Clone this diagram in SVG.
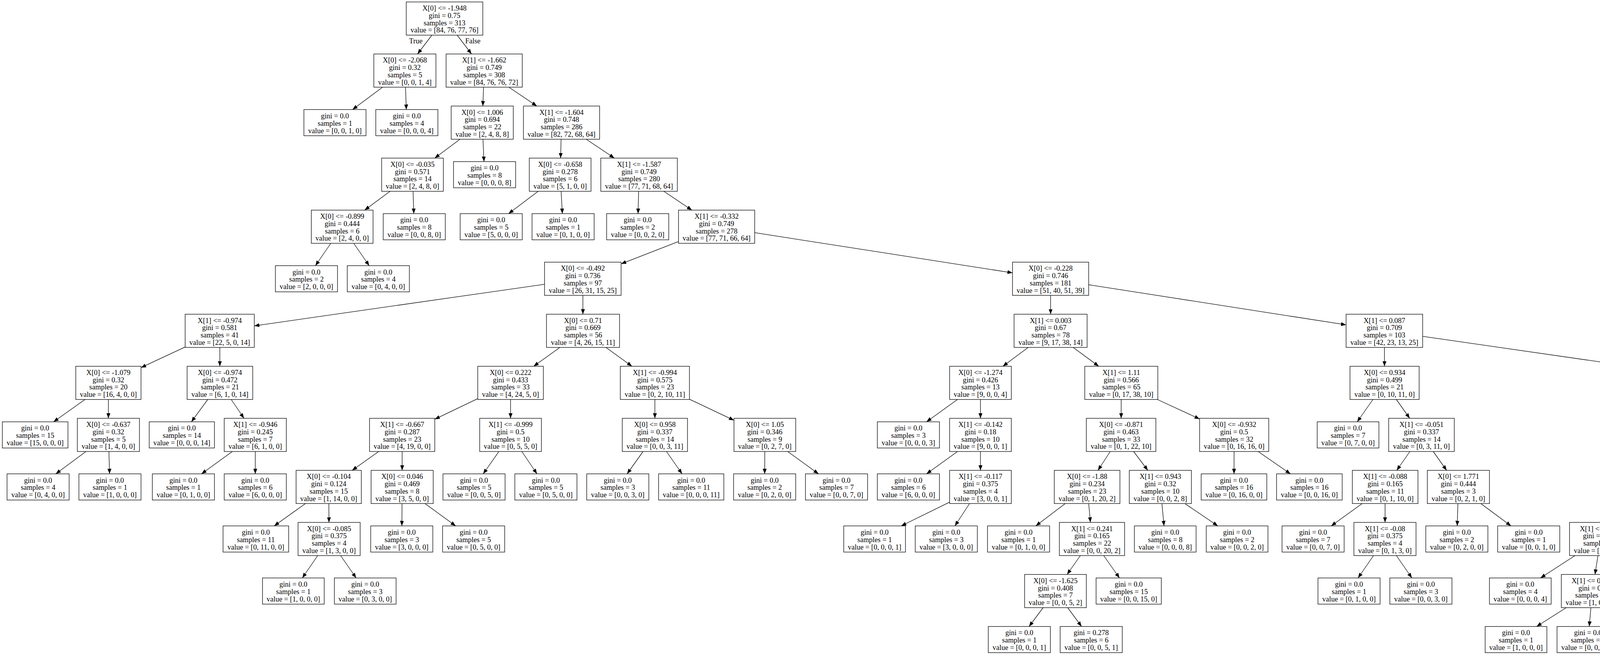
<svg xmlns="http://www.w3.org/2000/svg" width="5459" height="1677" viewBox="0 0 5459 1677">
<defs>
<style>
.nd rect{fill:#fff;stroke:#000;stroke-width:1.3}
text{font-family:"Liberation Serif","Times New Roman",serif;font-size:18.5px;text-anchor:middle;fill:#000}
.e line{stroke:#000;stroke-width:1.3;marker-end:url(#arr)}
</style>
<marker id="arr" markerUnits="userSpaceOnUse" markerWidth="14" markerHeight="10" refX="13" refY="5" orient="auto"><path d="M0,0 L13,5 L0,10 z" fill="#000"/></marker>
</defs>
<rect x="0" y="0" width="5459" height="1677" fill="#fff"/>
<g id="connectors" class="e">
<line x1="1105.6" y1="90" x2="1068.9" y2="138.25"/>
<line x1="1170.4" y1="90" x2="1207.1" y2="138.25"/>
<line x1="979.4" y1="223.25" x2="902.5" y2="280.5"/>
<line x1="1038.1" y1="223.25" x2="1040.2" y2="280.5"/>
<line x1="1237.9" y1="223.25" x2="1236.1" y2="271.5"/>
<line x1="1302.7" y1="223.25" x2="1374.3" y2="271.5"/>
<line x1="1177.6" y1="356.5" x2="1112.9" y2="404.75"/>
<line x1="1236.4" y1="356.5" x2="1239" y2="413.75"/>
<line x1="1436.4" y1="356.5" x2="1435.1" y2="404.75"/>
<line x1="1500.8" y1="356.5" x2="1572.7" y2="404.75"/>
<line x1="998.6" y1="489.75" x2="933.4" y2="538"/>
<line x1="1057.4" y1="489.75" x2="1059.4" y2="547"/>
<line x1="1377.7" y1="489.75" x2="1301.9" y2="547"/>
<line x1="1436.4" y1="489.75" x2="1439.6" y2="547"/>
<line x1="1634.9" y1="489.75" x2="1633.4" y2="547"/>
<line x1="1699.3" y1="489.75" x2="1771.2" y2="538"/>
<line x1="846.8" y1="623" x2="807.5" y2="680.25"/>
<line x1="905.5" y1="623" x2="945.2" y2="680.25"/>
<line x1="1737" y1="618.4" x2="1590" y2="675.6"/>
<line x1="1932" y1="595.7" x2="2592" y2="698.6"/>
<line x1="1394" y1="727.8" x2="651" y2="834.3"/>
<line x1="1492.2" y1="756.25" x2="1492.3" y2="804.5"/>
<line x1="2689.5" y1="756.25" x2="2689.5" y2="804.5"/>
<line x1="2787" y1="729" x2="3446" y2="831.7"/>
<line x1="474" y1="888.4" x2="361" y2="941.2"/>
<line x1="562.7" y1="889.5" x2="562.8" y2="937.75"/>
<line x1="1433.3" y1="889.5" x2="1366.2" y2="937.75"/>
<line x1="1551.2" y1="889.5" x2="1617.8" y2="937.75"/>
<line x1="2632.2" y1="889.5" x2="2567.3" y2="937.75"/>
<line x1="2747.2" y1="889.5" x2="2812.8" y2="937.75"/>
<line x1="3544.2" y1="889.5" x2="3544.3" y2="937.75"/>
<line x1="3642" y1="861.1" x2="4375" y2="966.8"/>
<line x1="217.7" y1="1022.75" x2="137.1" y2="1080"/>
<line x1="277.5" y1="1022.75" x2="277.5" y2="1071"/>
<line x1="531.9" y1="1022.75" x2="490" y2="1080"/>
<line x1="591.9" y1="1022.75" x2="624.6" y2="1071"/>
<line x1="1223" y1="1020.6" x2="1113" y2="1073.4"/>
<line x1="1307" y1="1022.75" x2="1307" y2="1071"/>
<line x1="1676.5" y1="1022.75" x2="1676.5" y2="1071"/>
<line x1="1765" y1="1022.1" x2="1879" y2="1076.1"/>
<line x1="2451.2" y1="1022.75" x2="2371.9" y2="1080"/>
<line x1="2510" y1="1022.75" x2="2510" y2="1071"/>
<line x1="2870.3" y1="1022.75" x2="2870.2" y2="1071"/>
<line x1="2962.7" y1="1022.75" x2="3071" y2="1072.7"/>
<line x1="3514.7" y1="1022.75" x2="3474.5" y2="1080"/>
<line x1="3574.6" y1="1022.75" x2="3608.9" y2="1071"/>
<line x1="4468.5" y1="1022.75" x2="4468.5" y2="1071"/>
<line x1="4562" y1="997.8" x2="5088" y2="1096.8"/>
<line x1="220.1" y1="1156" x2="142.8" y2="1213.25"/>
<line x1="278.8" y1="1156" x2="280.5" y2="1213.25"/>
<line x1="594.8" y1="1156" x2="515.8" y2="1213.25"/>
<line x1="653.5" y1="1156" x2="653.5" y2="1213.25"/>
<line x1="969.5" y1="1156" x2="901.5" y2="1204.25"/>
<line x1="1029.5" y1="1156" x2="1029.5" y2="1204.25"/>
<line x1="1277.2" y1="1156" x2="1237" y2="1213.25"/>
<line x1="1335.9" y1="1156" x2="1374.7" y2="1213.25"/>
<line x1="1646.2" y1="1156" x2="1605.4" y2="1213.25"/>
<line x1="1706.2" y1="1156" x2="1746.1" y2="1213.25"/>
<line x1="1957.8" y1="1156" x2="1957.6" y2="1213.25"/>
<line x1="2016.5" y1="1156" x2="2095.4" y2="1213.25"/>
<line x1="2451.2" y1="1156" x2="2371.9" y2="1213.25"/>
<line x1="2510" y1="1156" x2="2510" y2="1204.25"/>
<line x1="2842.2" y1="1156" x2="2810.8" y2="1204.25"/>
<line x1="2902.1" y1="1156" x2="2938.4" y2="1204.25"/>
<line x1="3159.3" y1="1156" x2="3159.1" y2="1213.25"/>
<line x1="3220.9" y1="1156" x2="3303.6" y2="1213.25"/>
<line x1="3609.3" y1="1156" x2="3575.7" y2="1204.25"/>
<line x1="3669.1" y1="1156" x2="3703.4" y2="1204.25"/>
<line x1="4437.7" y1="1156" x2="4402.8" y2="1204.25"/>
<line x1="4502.9" y1="1156" x2="4542.1" y2="1204.25"/>
<line x1="5176.7" y1="1156" x2="5176.3" y2="1204.25"/>
<line x1="5238.4" y1="1156" x2="5321.1" y2="1213.25"/>
<line x1="782" y1="1289.25" x2="701.9" y2="1346.5"/>
<line x1="841.8" y1="1289.25" x2="842.2" y2="1337.5"/>
<line x1="1029.2" y1="1289.25" x2="1028.8" y2="1346.5"/>
<line x1="1087.9" y1="1289.25" x2="1166.5" y2="1346.5"/>
<line x1="2431" y1="1285.6" x2="2307.1" y2="1346.5"/>
<line x1="2482.1" y1="1289.25" x2="2444.5" y2="1346.5"/>
<line x1="2727" y1="1289.25" x2="2651.6" y2="1346.5"/>
<line x1="2787" y1="1289.25" x2="2791.5" y2="1337.5"/>
<line x1="2974.5" y1="1289.25" x2="2979.9" y2="1346.5"/>
<line x1="3033.2" y1="1289.25" x2="3117.6" y2="1346.5"/>
<line x1="3487.2" y1="1289.25" x2="3407.9" y2="1346.5"/>
<line x1="3545.8" y1="1289.25" x2="3545.7" y2="1337.5"/>
<line x1="3732.2" y1="1289.25" x2="3730.5" y2="1346.5"/>
<line x1="3790.9" y1="1289.25" x2="3868.2" y2="1346.5"/>
<line x1="4288" y1="1287.5" x2="4177" y2="1341.4"/>
<line x1="4372" y1="1289.25" x2="4372" y2="1346.5"/>
<line x1="4576.5" y1="1289.25" x2="4576.5" y2="1337.5"/>
<line x1="4649.9" y1="1289.25" x2="4733.1" y2="1337.5"/>
<line x1="5175.8" y1="1289.25" x2="5175.7" y2="1337.5"/>
<line x1="5236" y1="1289.25" x2="5316.7" y2="1346.5"/>
<line x1="813.3" y1="1422.5" x2="774" y2="1479.75"/>
<line x1="872" y1="1422.5" x2="911.7" y2="1479.75"/>
<line x1="2765.7" y1="1422.5" x2="2731.8" y2="1470.75"/>
<line x1="2825.5" y1="1422.5" x2="2865.9" y2="1479.75"/>
<line x1="3516.2" y1="1422.5" x2="3476.6" y2="1479.75"/>
<line x1="3574.8" y1="1422.5" x2="3614.4" y2="1479.75"/>
<line x1="4032" y1="1422.5" x2="3943.7" y2="1479.75"/>
<line x1="4090.8" y1="1422.5" x2="4083.2" y2="1470.75"/>
<line x1="4530.1" y1="1422.5" x2="4477.4" y2="1470.75"/>
<line x1="4589.9" y1="1422.5" x2="4605.1" y2="1470.75"/>
<line x1="4806.5" y1="1422.5" x2="4806.5" y2="1479.75"/>
<line x1="4865.8" y1="1422.5" x2="4933.2" y2="1470.75"/>
<line x1="5175.5" y1="1422.5" x2="5175.5" y2="1479.75"/>
<line x1="5234.2" y1="1422.5" x2="5313.2" y2="1479.75"/>
<line x1="2670.4" y1="1555.75" x2="2634.4" y2="1604"/>
<line x1="2733.3" y1="1555.75" x2="2768.8" y2="1604"/>
<line x1="4009.6" y1="1555.75" x2="3933.7" y2="1604"/>
<line x1="4072.7" y1="1555.75" x2="4068.5" y2="1604"/>
<line x1="4368.9" y1="1555.75" x2="4298.4" y2="1604"/>
<line x1="4431.7" y1="1555.75" x2="4432.5" y2="1604"/>
<line x1="4618.3" y1="1555.75" x2="4618.1" y2="1604"/>
<line x1="4682.5" y1="1555.75" x2="4755.1" y2="1604"/>
<line x1="4993" y1="1555.75" x2="4993.6" y2="1604"/>
<line x1="5055.6" y1="1555.75" x2="5127.3" y2="1604"/>
<text x="1064.5" y="111">True</text>
<text x="1210.5" y="111">False</text>
</g>
<g id="node0" class="nd"><rect x="1040" y="5" width="196" height="85"/><text x="1138" y="27"><tspan x="1138">X[0] &lt;= -1.948</tspan><tspan x="1138" dy="18.8">gini = 0.75</tspan><tspan x="1138" dy="18.8">samples = 313</tspan><tspan x="1138" dy="18.8">value = [84, 76, 77, 76]</tspan></text></g>
<g id="node1" class="nd"><rect x="957" y="138.25" width="159" height="85"/><text x="1036.5" y="160.25"><tspan x="1036.5">X[0] &lt;= -2.068</tspan><tspan x="1036.5" dy="18.8">gini = 0.32</tspan><tspan x="1036.5" dy="18.8">samples = 5</tspan><tspan x="1036.5" dy="18.8">value = [0, 0, 1, 4]</tspan></text></g>
<g id="node2" class="nd"><rect x="1142" y="138.25" width="195" height="85"/><text x="1239.5" y="160.25"><tspan x="1239.5">X[1] &lt;= -1.662</tspan><tspan x="1239.5" dy="18.8">gini = 0.749</tspan><tspan x="1239.5" dy="18.8">samples = 308</tspan><tspan x="1239.5" dy="18.8">value = [84, 76, 76, 72]</tspan></text></g>
<g id="node3" class="nd"><rect x="778" y="280.5" width="159" height="67"/><text x="857.5" y="302.9"><tspan x="857.5">gini = 0.0</tspan><tspan x="857.5" dy="18.8">samples = 1</tspan><tspan x="857.5" dy="18.8">value = [0, 0, 1, 0]</tspan></text></g>
<g id="node4" class="nd"><rect x="962" y="280.5" width="159" height="67"/><text x="1041.5" y="302.9"><tspan x="1041.5">gini = 0.0</tspan><tspan x="1041.5" dy="18.8">samples = 4</tspan><tspan x="1041.5" dy="18.8">value = [0, 0, 0, 4]</tspan></text></g>
<g id="node5" class="nd"><rect x="1155" y="271.5" width="159" height="85"/><text x="1234.5" y="293.5"><tspan x="1234.5">X[0] &lt;= 1.006</tspan><tspan x="1234.5" dy="18.8">gini = 0.694</tspan><tspan x="1234.5" dy="18.8">samples = 22</tspan><tspan x="1234.5" dy="18.8">value = [2, 4, 8, 8]</tspan></text></g>
<g id="node6" class="nd"><rect x="1340" y="271.5" width="195" height="85"/><text x="1437.5" y="293.5"><tspan x="1437.5">X[1] &lt;= -1.604</tspan><tspan x="1437.5" dy="18.8">gini = 0.748</tspan><tspan x="1437.5" dy="18.8">samples = 286</tspan><tspan x="1437.5" dy="18.8">value = [82, 72, 68, 64]</tspan></text></g>
<g id="node7" class="nd"><rect x="977" y="404.75" width="158" height="85"/><text x="1056" y="426.75"><tspan x="1056">X[0] &lt;= -0.035</tspan><tspan x="1056" dy="18.8">gini = 0.571</tspan><tspan x="1056" dy="18.8">samples = 14</tspan><tspan x="1056" dy="18.8">value = [2, 4, 8, 0]</tspan></text></g>
<g id="node8" class="nd"><rect x="1161" y="413.75" width="159" height="67"/><text x="1240.5" y="436.15"><tspan x="1240.5">gini = 0.0</tspan><tspan x="1240.5" dy="18.8">samples = 8</tspan><tspan x="1240.5" dy="18.8">value = [0, 0, 0, 8]</tspan></text></g>
<g id="node9" class="nd"><rect x="1355" y="404.75" width="158" height="85"/><text x="1434" y="426.75"><tspan x="1434">X[0] &lt;= -0.658</tspan><tspan x="1434" dy="18.8">gini = 0.278</tspan><tspan x="1434" dy="18.8">samples = 6</tspan><tspan x="1434" dy="18.8">value = [5, 1, 0, 0]</tspan></text></g>
<g id="node10" class="nd"><rect x="1538" y="404.75" width="196" height="85"/><text x="1636" y="426.75"><tspan x="1636">X[1] &lt;= -1.587</tspan><tspan x="1636" dy="18.8">gini = 0.749</tspan><tspan x="1636" dy="18.8">samples = 280</tspan><tspan x="1636" dy="18.8">value = [77, 71, 68, 64]</tspan></text></g>
<g id="node11" class="nd"><rect x="797" y="538" width="158" height="85"/><text x="876" y="560"><tspan x="876">X[0] &lt;= -0.899</tspan><tspan x="876" dy="18.8">gini = 0.444</tspan><tspan x="876" dy="18.8">samples = 6</tspan><tspan x="876" dy="18.8">value = [2, 4, 0, 0]</tspan></text></g>
<g id="node12" class="nd"><rect x="981" y="547" width="159" height="67"/><text x="1060.5" y="569.4"><tspan x="1060.5">gini = 0.0</tspan><tspan x="1060.5" dy="18.8">samples = 8</tspan><tspan x="1060.5" dy="18.8">value = [0, 0, 8, 0]</tspan></text></g>
<g id="node13" class="nd"><rect x="1178" y="547" width="159" height="67"/><text x="1257.5" y="569.4"><tspan x="1257.5">gini = 0.0</tspan><tspan x="1257.5" dy="18.8">samples = 5</tspan><tspan x="1257.5" dy="18.8">value = [5, 0, 0, 0]</tspan></text></g>
<g id="node14" class="nd"><rect x="1362" y="547" width="159" height="67"/><text x="1441.5" y="569.4"><tspan x="1441.5">gini = 0.0</tspan><tspan x="1441.5" dy="18.8">samples = 1</tspan><tspan x="1441.5" dy="18.8">value = [0, 1, 0, 0]</tspan></text></g>
<g id="node15" class="nd"><rect x="1553" y="547" width="159" height="67"/><text x="1632.5" y="569.4"><tspan x="1632.5">gini = 0.0</tspan><tspan x="1632.5" dy="18.8">samples = 2</tspan><tspan x="1632.5" dy="18.8">value = [0, 0, 2, 0]</tspan></text></g>
<g id="node16" class="nd"><rect x="1737" y="538" width="195" height="85"/><text x="1834.5" y="560"><tspan x="1834.5">X[1] &lt;= -0.332</tspan><tspan x="1834.5" dy="18.8">gini = 0.749</tspan><tspan x="1834.5" dy="18.8">samples = 278</tspan><tspan x="1834.5" dy="18.8">value = [77, 71, 66, 64]</tspan></text></g>
<g id="node17" class="nd"><rect x="705" y="680.25" width="159" height="67"/><text x="784.5" y="702.65"><tspan x="784.5">gini = 0.0</tspan><tspan x="784.5" dy="18.8">samples = 2</tspan><tspan x="784.5" dy="18.8">value = [2, 0, 0, 0]</tspan></text></g>
<g id="node18" class="nd"><rect x="889" y="680.25" width="159" height="67"/><text x="968.5" y="702.65"><tspan x="968.5">gini = 0.0</tspan><tspan x="968.5" dy="18.8">samples = 4</tspan><tspan x="968.5" dy="18.8">value = [0, 4, 0, 0]</tspan></text></g>
<g id="node19" class="nd"><rect x="1394" y="671.25" width="196" height="85"/><text x="1492" y="693.25"><tspan x="1492">X[0] &lt;= -0.492</tspan><tspan x="1492" dy="18.8">gini = 0.736</tspan><tspan x="1492" dy="18.8">samples = 97</tspan><tspan x="1492" dy="18.8">value = [26, 31, 15, 25]</tspan></text></g>
<g id="node20" class="nd"><rect x="2592" y="671.25" width="195" height="85"/><text x="2689.5" y="693.25"><tspan x="2689.5">X[0] &lt;= -0.228</tspan><tspan x="2689.5" dy="18.8">gini = 0.746</tspan><tspan x="2689.5" dy="18.8">samples = 181</tspan><tspan x="2689.5" dy="18.8">value = [51, 40, 51, 39]</tspan></text></g>
<g id="node21" class="nd"><rect x="474" y="804.5" width="177" height="85"/><text x="562.5" y="826.5"><tspan x="562.5">X[1] &lt;= -0.974</tspan><tspan x="562.5" dy="18.8">gini = 0.581</tspan><tspan x="562.5" dy="18.8">samples = 41</tspan><tspan x="562.5" dy="18.8">value = [22, 5, 0, 14]</tspan></text></g>
<g id="node22" class="nd"><rect x="1399" y="804.5" width="187" height="85"/><text x="1492.5" y="826.5"><tspan x="1492.5">X[0] &lt;= 0.71</tspan><tspan x="1492.5" dy="18.8">gini = 0.669</tspan><tspan x="1492.5" dy="18.8">samples = 56</tspan><tspan x="1492.5" dy="18.8">value = [4, 26, 15, 11]</tspan></text></g>
<g id="node23" class="nd"><rect x="2596" y="804.5" width="187" height="85"/><text x="2689.5" y="826.5"><tspan x="2689.5">X[1] &lt;= 0.003</tspan><tspan x="2689.5" dy="18.8">gini = 0.67</tspan><tspan x="2689.5" dy="18.8">samples = 78</tspan><tspan x="2689.5" dy="18.8">value = [9, 17, 38, 14]</tspan></text></g>
<g id="node24" class="nd"><rect x="3446" y="804.5" width="196" height="85"/><text x="3544" y="826.5"><tspan x="3544">X[1] &lt;= 0.087</tspan><tspan x="3544" dy="18.8">gini = 0.709</tspan><tspan x="3544" dy="18.8">samples = 103</tspan><tspan x="3544" dy="18.8">value = [42, 23, 13, 25]</tspan></text></g>
<g id="node25" class="nd"><rect x="194" y="937.75" width="167" height="85"/><text x="277.5" y="959.75"><tspan x="277.5">X[0] &lt;= -1.079</tspan><tspan x="277.5" dy="18.8">gini = 0.32</tspan><tspan x="277.5" dy="18.8">samples = 20</tspan><tspan x="277.5" dy="18.8">value = [16, 4, 0, 0]</tspan></text></g>
<g id="node26" class="nd"><rect x="479" y="937.75" width="168" height="85"/><text x="563" y="959.75"><tspan x="563">X[0] &lt;= -0.974</tspan><tspan x="563" dy="18.8">gini = 0.472</tspan><tspan x="563" dy="18.8">samples = 21</tspan><tspan x="563" dy="18.8">value = [6, 1, 0, 14]</tspan></text></g>
<g id="node27" class="nd"><rect x="1223" y="937.75" width="168" height="85"/><text x="1307" y="959.75"><tspan x="1307">X[0] &lt;= 0.222</tspan><tspan x="1307" dy="18.8">gini = 0.433</tspan><tspan x="1307" dy="18.8">samples = 33</tspan><tspan x="1307" dy="18.8">value = [4, 24, 5, 0]</tspan></text></g>
<g id="node28" class="nd"><rect x="1588" y="937.75" width="177" height="85"/><text x="1676.5" y="959.75"><tspan x="1676.5">X[1] &lt;= -0.994</tspan><tspan x="1676.5" dy="18.8">gini = 0.575</tspan><tspan x="1676.5" dy="18.8">samples = 23</tspan><tspan x="1676.5" dy="18.8">value = [0, 2, 10, 11]</tspan></text></g>
<g id="node29" class="nd"><rect x="2431" y="937.75" width="158" height="85"/><text x="2510" y="959.75"><tspan x="2510">X[0] &lt;= -1.274</tspan><tspan x="2510" dy="18.8">gini = 0.426</tspan><tspan x="2510" dy="18.8">samples = 13</tspan><tspan x="2510" dy="18.8">value = [9, 0, 0, 4]</tspan></text></g>
<g id="node30" class="nd"><rect x="2777" y="937.75" width="187" height="85"/><text x="2870.5" y="959.75"><tspan x="2870.5">X[1] &lt;= 1.11</tspan><tspan x="2870.5" dy="18.8">gini = 0.566</tspan><tspan x="2870.5" dy="18.8">samples = 65</tspan><tspan x="2870.5" dy="18.8">value = [0, 17, 38, 10]</tspan></text></g>
<g id="node31" class="nd"><rect x="3456" y="937.75" width="177" height="85"/><text x="3544.5" y="959.75"><tspan x="3544.5">X[0] &lt;= 0.934</tspan><tspan x="3544.5" dy="18.8">gini = 0.499</tspan><tspan x="3544.5" dy="18.8">samples = 21</tspan><tspan x="3544.5" dy="18.8">value = [0, 10, 11, 0]</tspan></text></g>
<g id="node32" class="nd"><rect x="4375" y="937.75" width="187" height="85"/><text x="4468.5" y="959.75"><tspan x="4468.5">X[0] &lt;= 0.89</tspan><tspan x="4468.5" dy="18.8">gini = 0.619</tspan><tspan x="4468.5" dy="18.8">samples = 82</tspan><tspan x="4468.5" dy="18.8">value = [42, 13, 2, 25]</tspan></text></g>
<g id="node33" class="nd"><rect x="6" y="1080" width="168" height="67"/><text x="90" y="1102.4"><tspan x="90">gini = 0.0</tspan><tspan x="90" dy="18.8">samples = 15</tspan><tspan x="90" dy="18.8">value = [15, 0, 0, 0]</tspan></text></g>
<g id="node34" class="nd"><rect x="198" y="1071" width="159" height="85"/><text x="277.5" y="1093"><tspan x="277.5">X[0] &lt;= -0.637</tspan><tspan x="277.5" dy="18.8">gini = 0.32</tspan><tspan x="277.5" dy="18.8">samples = 5</tspan><tspan x="277.5" dy="18.8">value = [1, 4, 0, 0]</tspan></text></g>
<g id="node35" class="nd"><rect x="382" y="1080" width="167" height="67"/><text x="465.5" y="1102.4"><tspan x="465.5">gini = 0.0</tspan><tspan x="465.5" dy="18.8">samples = 14</tspan><tspan x="465.5" dy="18.8">value = [0, 0, 0, 14]</tspan></text></g>
<g id="node36" class="nd"><rect x="574" y="1071" width="159" height="85"/><text x="653.5" y="1093"><tspan x="653.5">X[1] &lt;= -0.946</tspan><tspan x="653.5" dy="18.8">gini = 0.245</tspan><tspan x="653.5" dy="18.8">samples = 7</tspan><tspan x="653.5" dy="18.8">value = [6, 1, 0, 0]</tspan></text></g>
<g id="node37" class="nd"><rect x="946" y="1071" width="167" height="85"/><text x="1029.5" y="1093"><tspan x="1029.5">X[1] &lt;= -0.667</tspan><tspan x="1029.5" dy="18.8">gini = 0.287</tspan><tspan x="1029.5" dy="18.8">samples = 23</tspan><tspan x="1029.5" dy="18.8">value = [4, 19, 0, 0]</tspan></text></g>
<g id="node38" class="nd"><rect x="1228" y="1071" width="158" height="85"/><text x="1307" y="1093"><tspan x="1307">X[1] &lt;= -0.999</tspan><tspan x="1307" dy="18.8">gini = 0.5</tspan><tspan x="1307" dy="18.8">samples = 10</tspan><tspan x="1307" dy="18.8">value = [0, 5, 5, 0]</tspan></text></g>
<g id="node39" class="nd"><rect x="1593" y="1071" width="167" height="85"/><text x="1676.5" y="1093"><tspan x="1676.5">X[0] &lt;= 0.958</tspan><tspan x="1676.5" dy="18.8">gini = 0.337</tspan><tspan x="1676.5" dy="18.8">samples = 14</tspan><tspan x="1676.5" dy="18.8">value = [0, 0, 3, 11]</tspan></text></g>
<g id="node40" class="nd"><rect x="1879" y="1071" width="158" height="85"/><text x="1958" y="1093"><tspan x="1958">X[0] &lt;= 1.05</tspan><tspan x="1958" dy="18.8">gini = 0.346</tspan><tspan x="1958" dy="18.8">samples = 9</tspan><tspan x="1958" dy="18.8">value = [0, 2, 7, 0]</tspan></text></g>
<g id="node41" class="nd"><rect x="2246" y="1080" width="159" height="67"/><text x="2325.5" y="1102.4"><tspan x="2325.5">gini = 0.0</tspan><tspan x="2325.5" dy="18.8">samples = 3</tspan><tspan x="2325.5" dy="18.8">value = [0, 0, 0, 3]</tspan></text></g>
<g id="node42" class="nd"><rect x="2431" y="1071" width="158" height="85"/><text x="2510" y="1093"><tspan x="2510">X[1] &lt;= -0.142</tspan><tspan x="2510" dy="18.8">gini = 0.18</tspan><tspan x="2510" dy="18.8">samples = 10</tspan><tspan x="2510" dy="18.8">value = [9, 0, 0, 1]</tspan></text></g>
<g id="node43" class="nd"><rect x="2781" y="1071" width="178" height="85"/><text x="2870" y="1093"><tspan x="2870">X[0] &lt;= -0.871</tspan><tspan x="2870" dy="18.8">gini = 0.463</tspan><tspan x="2870" dy="18.8">samples = 33</tspan><tspan x="2870" dy="18.8">value = [0, 1, 22, 10]</tspan></text></g>
<g id="node44" class="nd"><rect x="3071" y="1071" width="177" height="85"/><text x="3159.5" y="1093"><tspan x="3159.5">X[0] &lt;= -0.932</tspan><tspan x="3159.5" dy="18.8">gini = 0.5</tspan><tspan x="3159.5" dy="18.8">samples = 32</tspan><tspan x="3159.5" dy="18.8">value = [0, 16, 16, 0]</tspan></text></g>
<g id="node45" class="nd"><rect x="3372" y="1080" width="158" height="67"/><text x="3451" y="1102.4"><tspan x="3451">gini = 0.0</tspan><tspan x="3451" dy="18.8">samples = 7</tspan><tspan x="3451" dy="18.8">value = [0, 7, 0, 0]</tspan></text></g>
<g id="node46" class="nd"><rect x="3555" y="1071" width="168" height="85"/><text x="3639" y="1093"><tspan x="3639">X[1] &lt;= -0.051</tspan><tspan x="3639" dy="18.8">gini = 0.337</tspan><tspan x="3639" dy="18.8">samples = 14</tspan><tspan x="3639" dy="18.8">value = [0, 3, 11, 0]</tspan></text></g>
<g id="node47" class="nd"><rect x="4380" y="1071" width="177" height="85"/><text x="4468.5" y="1093"><tspan x="4468.5">X[1] &lt;= 0.933</tspan><tspan x="4468.5" dy="18.8">gini = 0.536</tspan><tspan x="4468.5" dy="18.8">samples = 48</tspan><tspan x="4468.5" dy="18.8">value = [21, 0, 2, 25]</tspan></text></g>
<g id="node48" class="nd"><rect x="5088" y="1071" width="178" height="85"/><text x="5177" y="1093"><tspan x="5177">X[1] &lt;= 1.015</tspan><tspan x="5177" dy="18.8">gini = 0.472</tspan><tspan x="5177" dy="18.8">samples = 34</tspan><tspan x="5177" dy="18.8">value = [21, 13, 0, 0]</tspan></text></g>
<g id="node49" class="nd"><rect x="18" y="1213.25" width="159" height="67"/><text x="97.5" y="1235.65"><tspan x="97.5">gini = 0.0</tspan><tspan x="97.5" dy="18.8">samples = 4</tspan><tspan x="97.5" dy="18.8">value = [0, 4, 0, 0]</tspan></text></g>
<g id="node50" class="nd"><rect x="202" y="1213.25" width="159" height="67"/><text x="281.5" y="1235.65"><tspan x="281.5">gini = 0.0</tspan><tspan x="281.5" dy="18.8">samples = 1</tspan><tspan x="281.5" dy="18.8">value = [1, 0, 0, 0]</tspan></text></g>
<g id="node51" class="nd"><rect x="390" y="1213.25" width="159" height="67"/><text x="469.5" y="1235.65"><tspan x="469.5">gini = 0.0</tspan><tspan x="469.5" dy="18.8">samples = 1</tspan><tspan x="469.5" dy="18.8">value = [0, 1, 0, 0]</tspan></text></g>
<g id="node52" class="nd"><rect x="574" y="1213.25" width="159" height="67"/><text x="653.5" y="1235.65"><tspan x="653.5">gini = 0.0</tspan><tspan x="653.5" dy="18.8">samples = 6</tspan><tspan x="653.5" dy="18.8">value = [6, 0, 0, 0]</tspan></text></g>
<g id="node53" class="nd"><rect x="758" y="1204.25" width="167" height="85"/><text x="841.5" y="1226.25"><tspan x="841.5">X[0] &lt;= -0.104</tspan><tspan x="841.5" dy="18.8">gini = 0.124</tspan><tspan x="841.5" dy="18.8">samples = 15</tspan><tspan x="841.5" dy="18.8">value = [1, 14, 0, 0]</tspan></text></g>
<g id="node54" class="nd"><rect x="950" y="1204.25" width="159" height="85"/><text x="1029.5" y="1226.25"><tspan x="1029.5">X[0] &lt;= 0.046</tspan><tspan x="1029.5" dy="18.8">gini = 0.469</tspan><tspan x="1029.5" dy="18.8">samples = 8</tspan><tspan x="1029.5" dy="18.8">value = [3, 5, 0, 0]</tspan></text></g>
<g id="node55" class="nd"><rect x="1134" y="1213.25" width="159" height="67"/><text x="1213.5" y="1235.65"><tspan x="1213.5">gini = 0.0</tspan><tspan x="1213.5" dy="18.8">samples = 5</tspan><tspan x="1213.5" dy="18.8">value = [0, 0, 5, 0]</tspan></text></g>
<g id="node56" class="nd"><rect x="1318" y="1213.25" width="159" height="67"/><text x="1397.5" y="1235.65"><tspan x="1397.5">gini = 0.0</tspan><tspan x="1397.5" dy="18.8">samples = 5</tspan><tspan x="1397.5" dy="18.8">value = [0, 5, 0, 0]</tspan></text></g>
<g id="node57" class="nd"><rect x="1502" y="1213.25" width="159" height="67"/><text x="1581.5" y="1235.65"><tspan x="1581.5">gini = 0.0</tspan><tspan x="1581.5" dy="18.8">samples = 3</tspan><tspan x="1581.5" dy="18.8">value = [0, 0, 3, 0]</tspan></text></g>
<g id="node58" class="nd"><rect x="1686" y="1213.25" width="167" height="67"/><text x="1769.5" y="1235.65"><tspan x="1769.5">gini = 0.0</tspan><tspan x="1769.5" dy="18.8">samples = 11</tspan><tspan x="1769.5" dy="18.8">value = [0, 0, 0, 11]</tspan></text></g>
<g id="node59" class="nd"><rect x="1878" y="1213.25" width="159" height="67"/><text x="1957.5" y="1235.65"><tspan x="1957.5">gini = 0.0</tspan><tspan x="1957.5" dy="18.8">samples = 2</tspan><tspan x="1957.5" dy="18.8">value = [0, 2, 0, 0]</tspan></text></g>
<g id="node60" class="nd"><rect x="2062" y="1213.25" width="159" height="67"/><text x="2141.5" y="1235.65"><tspan x="2141.5">gini = 0.0</tspan><tspan x="2141.5" dy="18.8">samples = 7</tspan><tspan x="2141.5" dy="18.8">value = [0, 0, 7, 0]</tspan></text></g>
<g id="node61" class="nd"><rect x="2246" y="1213.25" width="159" height="67"/><text x="2325.5" y="1235.65"><tspan x="2325.5">gini = 0.0</tspan><tspan x="2325.5" dy="18.8">samples = 6</tspan><tspan x="2325.5" dy="18.8">value = [6, 0, 0, 0]</tspan></text></g>
<g id="node62" class="nd"><rect x="2431" y="1204.25" width="158" height="85"/><text x="2510" y="1226.25"><tspan x="2510">X[1] &lt;= -0.117</tspan><tspan x="2510" dy="18.8">gini = 0.375</tspan><tspan x="2510" dy="18.8">samples = 4</tspan><tspan x="2510" dy="18.8">value = [3, 0, 0, 1]</tspan></text></g>
<g id="node63" class="nd"><rect x="2699" y="1204.25" width="168" height="85"/><text x="2783" y="1226.25"><tspan x="2783">X[0] &lt;= -1.88</tspan><tspan x="2783" dy="18.8">gini = 0.234</tspan><tspan x="2783" dy="18.8">samples = 23</tspan><tspan x="2783" dy="18.8">value = [0, 1, 20, 2]</tspan></text></g>
<g id="node64" class="nd"><rect x="2891" y="1204.25" width="159" height="85"/><text x="2970.5" y="1226.25"><tspan x="2970.5">X[1] &lt;= 0.943</tspan><tspan x="2970.5" dy="18.8">gini = 0.32</tspan><tspan x="2970.5" dy="18.8">samples = 10</tspan><tspan x="2970.5" dy="18.8">value = [0, 0, 2, 8]</tspan></text></g>
<g id="node65" class="nd"><rect x="3075" y="1213.25" width="168" height="67"/><text x="3159" y="1235.65"><tspan x="3159">gini = 0.0</tspan><tspan x="3159" dy="18.8">samples = 16</tspan><tspan x="3159" dy="18.8">value = [0, 16, 0, 0]</tspan></text></g>
<g id="node66" class="nd"><rect x="3268" y="1213.25" width="168" height="67"/><text x="3352" y="1235.65"><tspan x="3352">gini = 0.0</tspan><tspan x="3352" dy="18.8">samples = 16</tspan><tspan x="3352" dy="18.8">value = [0, 0, 16, 0]</tspan></text></g>
<g id="node67" class="nd"><rect x="3462" y="1204.25" width="168" height="85"/><text x="3546" y="1226.25"><tspan x="3546">X[1] &lt;= -0.088</tspan><tspan x="3546" dy="18.8">gini = 0.165</tspan><tspan x="3546" dy="18.8">samples = 11</tspan><tspan x="3546" dy="18.8">value = [0, 1, 10, 0]</tspan></text></g>
<g id="node68" class="nd"><rect x="3654" y="1204.25" width="159" height="85"/><text x="3733.5" y="1226.25"><tspan x="3733.5">X[0] &lt;= 1.771</tspan><tspan x="3733.5" dy="18.8">gini = 0.444</tspan><tspan x="3733.5" dy="18.8">samples = 3</tspan><tspan x="3733.5" dy="18.8">value = [0, 2, 1, 0]</tspan></text></g>
<g id="node69" class="nd"><rect x="4288" y="1204.25" width="168" height="85"/><text x="4372" y="1226.25"><tspan x="4372">X[0] &lt;= 0.014</tspan><tspan x="4372" dy="18.8">gini = 0.34</tspan><tspan x="4372" dy="18.8">samples = 23</tspan><tspan x="4372" dy="18.8">value = [18, 0, 0, 5]</tspan></text></g>
<g id="node70" class="nd"><rect x="4493" y="1204.25" width="167" height="85"/><text x="4576.5" y="1226.25"><tspan x="4576.5">X[0] &lt;= 0.762</tspan><tspan x="4576.5" dy="18.8">gini = 0.339</tspan><tspan x="4576.5" dy="18.8">samples = 25</tspan><tspan x="4576.5" dy="18.8">value = [3, 0, 2, 20]</tspan></text></g>
<g id="node71" class="nd"><rect x="5092" y="1204.25" width="168" height="85"/><text x="5176" y="1226.25"><tspan x="5176">X[0] &lt;= 1.024</tspan><tspan x="5176" dy="18.8">gini = 0.133</tspan><tspan x="5176" dy="18.8">samples = 14</tspan><tspan x="5176" dy="18.8">value = [1, 13, 0, 0]</tspan></text></g>
<g id="node72" class="nd"><rect x="5286" y="1213.25" width="167" height="67"/><text x="5369.5" y="1235.65"><tspan x="5369.5">gini = 0.0</tspan><tspan x="5369.5" dy="18.8">samples = 20</tspan><tspan x="5369.5" dy="18.8">value = [20, 0, 0, 0]</tspan></text></g>
<g id="node73" class="nd"><rect x="571" y="1346.5" width="168" height="67"/><text x="655" y="1368.9"><tspan x="655">gini = 0.0</tspan><tspan x="655" dy="18.8">samples = 11</tspan><tspan x="655" dy="18.8">value = [0, 11, 0, 0]</tspan></text></g>
<g id="node74" class="nd"><rect x="763" y="1337.5" width="159" height="85"/><text x="842.5" y="1359.5"><tspan x="842.5">X[0] &lt;= -0.085</tspan><tspan x="842.5" dy="18.8">gini = 0.375</tspan><tspan x="842.5" dy="18.8">samples = 4</tspan><tspan x="842.5" dy="18.8">value = [1, 3, 0, 0]</tspan></text></g>
<g id="node75" class="nd"><rect x="949" y="1346.5" width="159" height="67"/><text x="1028.5" y="1368.9"><tspan x="1028.5">gini = 0.0</tspan><tspan x="1028.5" dy="18.8">samples = 3</tspan><tspan x="1028.5" dy="18.8">value = [3, 0, 0, 0]</tspan></text></g>
<g id="node76" class="nd"><rect x="1133" y="1346.5" width="159" height="67"/><text x="1212.5" y="1368.9"><tspan x="1212.5">gini = 0.0</tspan><tspan x="1212.5" dy="18.8">samples = 5</tspan><tspan x="1212.5" dy="18.8">value = [0, 5, 0, 0]</tspan></text></g>
<g id="node77" class="nd"><rect x="2160" y="1346.5" width="158" height="67"/><text x="2239" y="1368.9"><tspan x="2239">gini = 0.0</tspan><tspan x="2239" dy="18.8">samples = 1</tspan><tspan x="2239" dy="18.8">value = [0, 0, 0, 1]</tspan></text></g>
<g id="node78" class="nd"><rect x="2343" y="1346.5" width="159" height="67"/><text x="2422.5" y="1368.9"><tspan x="2422.5">gini = 0.0</tspan><tspan x="2422.5" dy="18.8">samples = 3</tspan><tspan x="2422.5" dy="18.8">value = [3, 0, 0, 0]</tspan></text></g>
<g id="node79" class="nd"><rect x="2528" y="1346.5" width="159" height="67"/><text x="2607.5" y="1368.9"><tspan x="2607.5">gini = 0.0</tspan><tspan x="2607.5" dy="18.8">samples = 1</tspan><tspan x="2607.5" dy="18.8">value = [0, 1, 0, 0]</tspan></text></g>
<g id="node80" class="nd"><rect x="2712" y="1337.5" width="167" height="85"/><text x="2795.5" y="1359.5"><tspan x="2795.5">X[1] &lt;= 0.241</tspan><tspan x="2795.5" dy="18.8">gini = 0.165</tspan><tspan x="2795.5" dy="18.8">samples = 22</tspan><tspan x="2795.5" dy="18.8">value = [0, 0, 20, 2]</tspan></text></g>
<g id="node81" class="nd"><rect x="2904" y="1346.5" width="158" height="67"/><text x="2983" y="1368.9"><tspan x="2983">gini = 0.0</tspan><tspan x="2983" dy="18.8">samples = 8</tspan><tspan x="2983" dy="18.8">value = [0, 0, 0, 8]</tspan></text></g>
<g id="node82" class="nd"><rect x="3088" y="1346.5" width="158" height="67"/><text x="3167" y="1368.9"><tspan x="3167">gini = 0.0</tspan><tspan x="3167" dy="18.8">samples = 2</tspan><tspan x="3167" dy="18.8">value = [0, 0, 2, 0]</tspan></text></g>
<g id="node83" class="nd"><rect x="3282" y="1346.5" width="159" height="67"/><text x="3361.5" y="1368.9"><tspan x="3361.5">gini = 0.0</tspan><tspan x="3361.5" dy="18.8">samples = 7</tspan><tspan x="3361.5" dy="18.8">value = [0, 0, 7, 0]</tspan></text></g>
<g id="node84" class="nd"><rect x="3466" y="1337.5" width="159" height="85"/><text x="3545.5" y="1359.5"><tspan x="3545.5">X[1] &lt;= -0.08</tspan><tspan x="3545.5" dy="18.8">gini = 0.375</tspan><tspan x="3545.5" dy="18.8">samples = 4</tspan><tspan x="3545.5" dy="18.8">value = [0, 1, 3, 0]</tspan></text></g>
<g id="node85" class="nd"><rect x="3650" y="1346.5" width="159" height="67"/><text x="3729.5" y="1368.9"><tspan x="3729.5">gini = 0.0</tspan><tspan x="3729.5" dy="18.8">samples = 2</tspan><tspan x="3729.5" dy="18.8">value = [0, 2, 0, 0]</tspan></text></g>
<g id="node86" class="nd"><rect x="3834" y="1346.5" width="159" height="67"/><text x="3913.5" y="1368.9"><tspan x="3913.5">gini = 0.0</tspan><tspan x="3913.5" dy="18.8">samples = 1</tspan><tspan x="3913.5" dy="18.8">value = [0, 0, 1, 0]</tspan></text></g>
<g id="node87" class="nd"><rect x="4018" y="1337.5" width="159" height="85"/><text x="4097.5" y="1359.5"><tspan x="4097.5">X[1] &lt;= 0.592</tspan><tspan x="4097.5" dy="18.8">gini = 0.278</tspan><tspan x="4097.5" dy="18.8">samples = 6</tspan><tspan x="4097.5" dy="18.8">value = [1, 0, 0, 5]</tspan></text></g>
<g id="node88" class="nd"><rect x="4288" y="1346.5" width="168" height="67"/><text x="4372" y="1368.9"><tspan x="4372">gini = 0.0</tspan><tspan x="4372" dy="18.8">samples = 17</tspan><tspan x="4372" dy="18.8">value = [17, 0, 0, 0]</tspan></text></g>
<g id="node89" class="nd"><rect x="4493" y="1337.5" width="167" height="85"/><text x="4576.5" y="1359.5"><tspan x="4576.5">X[0] &lt;= -0.013</tspan><tspan x="4576.5" dy="18.8">gini = 0.254</tspan><tspan x="4576.5" dy="18.8">samples = 21</tspan><tspan x="4576.5" dy="18.8">value = [1, 0, 2, 18]</tspan></text></g>
<g id="node90" class="nd"><rect x="4727" y="1337.5" width="159" height="85"/><text x="4806.5" y="1359.5"><tspan x="4806.5">X[0] &lt;= 0.802</tspan><tspan x="4806.5" dy="18.8">gini = 0.5</tspan><tspan x="4806.5" dy="18.8">samples = 4</tspan><tspan x="4806.5" dy="18.8">value = [2, 0, 0, 2]</tspan></text></g>
<g id="node91" class="nd"><rect x="5096" y="1337.5" width="159" height="85"/><text x="5175.5" y="1359.5"><tspan x="5175.5">X[1] &lt;= 0.619</tspan><tspan x="5175.5" dy="18.8">gini = 0.5</tspan><tspan x="5175.5" dy="18.8">samples = 2</tspan><tspan x="5175.5" dy="18.8">value = [1, 1, 0, 0]</tspan></text></g>
<g id="node92" class="nd"><rect x="5280" y="1346.5" width="168" height="67"/><text x="5364" y="1368.9"><tspan x="5364">gini = 0.0</tspan><tspan x="5364" dy="18.8">samples = 12</tspan><tspan x="5364" dy="18.8">value = [0, 12, 0, 0]</tspan></text></g>
<g id="node93" class="nd"><rect x="672" y="1479.75" width="158" height="67"/><text x="751" y="1502.15"><tspan x="751">gini = 0.0</tspan><tspan x="751" dy="18.8">samples = 1</tspan><tspan x="751" dy="18.8">value = [1, 0, 0, 0]</tspan></text></g>
<g id="node94" class="nd"><rect x="856" y="1479.75" width="158" height="67"/><text x="935" y="1502.15"><tspan x="935">gini = 0.0</tspan><tspan x="935" dy="18.8">samples = 3</tspan><tspan x="935" dy="18.8">value = [0, 3, 0, 0]</tspan></text></g>
<g id="node95" class="nd"><rect x="2623" y="1470.75" width="158" height="85"/><text x="2702" y="1492.75"><tspan x="2702">X[0] &lt;= -1.625</tspan><tspan x="2702" dy="18.8">gini = 0.408</tspan><tspan x="2702" dy="18.8">samples = 7</tspan><tspan x="2702" dy="18.8">value = [0, 0, 5, 2]</tspan></text></g>
<g id="node96" class="nd"><rect x="2806" y="1479.75" width="167" height="67"/><text x="2889.5" y="1502.15"><tspan x="2889.5">gini = 0.0</tspan><tspan x="2889.5" dy="18.8">samples = 15</tspan><tspan x="2889.5" dy="18.8">value = [0, 0, 15, 0]</tspan></text></g>
<g id="node97" class="nd"><rect x="3374" y="1479.75" width="159" height="67"/><text x="3453.5" y="1502.15"><tspan x="3453.5">gini = 0.0</tspan><tspan x="3453.5" dy="18.8">samples = 1</tspan><tspan x="3453.5" dy="18.8">value = [0, 1, 0, 0]</tspan></text></g>
<g id="node98" class="nd"><rect x="3558" y="1479.75" width="159" height="67"/><text x="3637.5" y="1502.15"><tspan x="3637.5">gini = 0.0</tspan><tspan x="3637.5" dy="18.8">samples = 3</tspan><tspan x="3637.5" dy="18.8">value = [0, 0, 3, 0]</tspan></text></g>
<g id="node99" class="nd"><rect x="3813" y="1479.75" width="158" height="67"/><text x="3892" y="1502.15"><tspan x="3892">gini = 0.0</tspan><tspan x="3892" dy="18.8">samples = 4</tspan><tspan x="3892" dy="18.8">value = [0, 0, 0, 4]</tspan></text></g>
<g id="node100" class="nd"><rect x="3997" y="1470.75" width="159" height="85"/><text x="4076.5" y="1492.75"><tspan x="4076.5">X[1] &lt;= 0.716</tspan><tspan x="4076.5" dy="18.8">gini = 0.5</tspan><tspan x="4076.5" dy="18.8">samples = 2</tspan><tspan x="4076.5" dy="18.8">value = [1, 0, 0, 1]</tspan></text></g>
<g id="node101" class="nd"><rect x="4352" y="1470.75" width="158" height="85"/><text x="4431" y="1492.75"><tspan x="4431">X[0] &lt;= -0.149</tspan><tspan x="4431" dy="18.8">gini = 0.667</tspan><tspan x="4431" dy="18.8">samples = 3</tspan><tspan x="4431" dy="18.8">value = [1, 0, 1, 1]</tspan></text></g>
<g id="node102" class="nd"><rect x="4535" y="1470.75" width="167" height="85"/><text x="4618.5" y="1492.75"><tspan x="4618.5">X[0] &lt;= 0.118</tspan><tspan x="4618.5" dy="18.8">gini = 0.105</tspan><tspan x="4618.5" dy="18.8">samples = 18</tspan><tspan x="4618.5" dy="18.8">value = [0, 0, 1, 17]</tspan></text></g>
<g id="node103" class="nd"><rect x="4727" y="1479.75" width="159" height="67"/><text x="4806.5" y="1502.15"><tspan x="4806.5">gini = 0.0</tspan><tspan x="4806.5" dy="18.8">samples = 1</tspan><tspan x="4806.5" dy="18.8">value = [1, 0, 0, 0]</tspan></text></g>
<g id="node104" class="nd"><rect x="4913" y="1470.75" width="159" height="85"/><text x="4992.5" y="1492.75"><tspan x="4992.5">X[0] &lt;= 0.826</tspan><tspan x="4992.5" dy="18.8">gini = 0.444</tspan><tspan x="4992.5" dy="18.8">samples = 3</tspan><tspan x="4992.5" dy="18.8">value = [1, 0, 0, 2]</tspan></text></g>
<g id="node105" class="nd"><rect x="5096" y="1479.75" width="159" height="67"/><text x="5175.5" y="1502.15"><tspan x="5175.5">gini = 0.0</tspan><tspan x="5175.5" dy="18.8">samples = 1</tspan><tspan x="5175.5" dy="18.8">value = [0, 1, 0, 0]</tspan></text></g>
<g id="node106" class="nd"><rect x="5280" y="1479.75" width="159" height="67"/><text x="5359.5" y="1502.15"><tspan x="5359.5">gini = 0.0</tspan><tspan x="5359.5" dy="18.8">samples = 1</tspan><tspan x="5359.5" dy="18.8">value = [1, 0, 0, 0]</tspan></text></g>
<g id="node107" class="nd"><rect x="2530" y="1604" width="159" height="67"/><text x="2609.5" y="1626.4"><tspan x="2609.5">gini = 0.0</tspan><tspan x="2609.5" dy="18.8">samples = 1</tspan><tspan x="2609.5" dy="18.8">value = [0, 0, 0, 1]</tspan></text></g>
<g id="node108" class="nd"><rect x="2714" y="1604" width="159" height="67"/><text x="2793.5" y="1626.4"><tspan x="2793.5">gini = 0.278</tspan><tspan x="2793.5" dy="18.8">samples = 6</tspan><tspan x="2793.5" dy="18.8">value = [0, 0, 5, 1]</tspan></text></g>
<g id="node109" class="nd"><rect x="3802" y="1604" width="158" height="67"/><text x="3881" y="1626.4"><tspan x="3881">gini = 0.0</tspan><tspan x="3881" dy="18.8">samples = 1</tspan><tspan x="3881" dy="18.8">value = [1, 0, 0, 0]</tspan></text></g>
<g id="node110" class="nd"><rect x="3986" y="1604" width="159" height="67"/><text x="4065.5" y="1626.4"><tspan x="4065.5">gini = 0.0</tspan><tspan x="4065.5" dy="18.8">samples = 1</tspan><tspan x="4065.5" dy="18.8">value = [0, 0, 0, 1]</tspan></text></g>
<g id="node111" class="nd"><rect x="4170" y="1604" width="159" height="67"/><text x="4249.5" y="1626.4"><tspan x="4249.5">gini = 0.0</tspan><tspan x="4249.5" dy="18.8">samples = 1</tspan><tspan x="4249.5" dy="18.8">value = [0, 0, 0, 1]</tspan></text></g>
<g id="node112" class="nd"><rect x="4354" y="1604" width="158" height="67"/><text x="4433" y="1626.4"><tspan x="4433">gini = 0.5</tspan><tspan x="4433" dy="18.8">samples = 2</tspan><tspan x="4433" dy="18.8">value = [1, 0, 1, 0]</tspan></text></g>
<g id="node113" class="nd"><rect x="4539" y="1604" width="158" height="67"/><text x="4618" y="1626.4"><tspan x="4618">gini = 0.375</tspan><tspan x="4618" dy="18.8">samples = 4</tspan><tspan x="4618" dy="18.8">value = [0, 0, 1, 3]</tspan></text></g>
<g id="node114" class="nd"><rect x="4722" y="1604" width="167" height="67"/><text x="4805.5" y="1626.4"><tspan x="4805.5">gini = 0.0</tspan><tspan x="4805.5" dy="18.8">samples = 14</tspan><tspan x="4805.5" dy="18.8">value = [0, 0, 0, 14]</tspan></text></g>
<g id="node115" class="nd"><rect x="4915" y="1604" width="158" height="67"/><text x="4994" y="1626.4"><tspan x="4994">gini = 0.0</tspan><tspan x="4994" dy="18.8">samples = 1</tspan><tspan x="4994" dy="18.8">value = [0, 0, 0, 1]</tspan></text></g>
<g id="node116" class="nd"><rect x="5098" y="1604" width="158" height="67"/><text x="5177" y="1626.4"><tspan x="5177">gini = 0.5</tspan><tspan x="5177" dy="18.8">samples = 2</tspan><tspan x="5177" dy="18.8">value = [1, 0, 0, 1]</tspan></text></g>
</svg>
